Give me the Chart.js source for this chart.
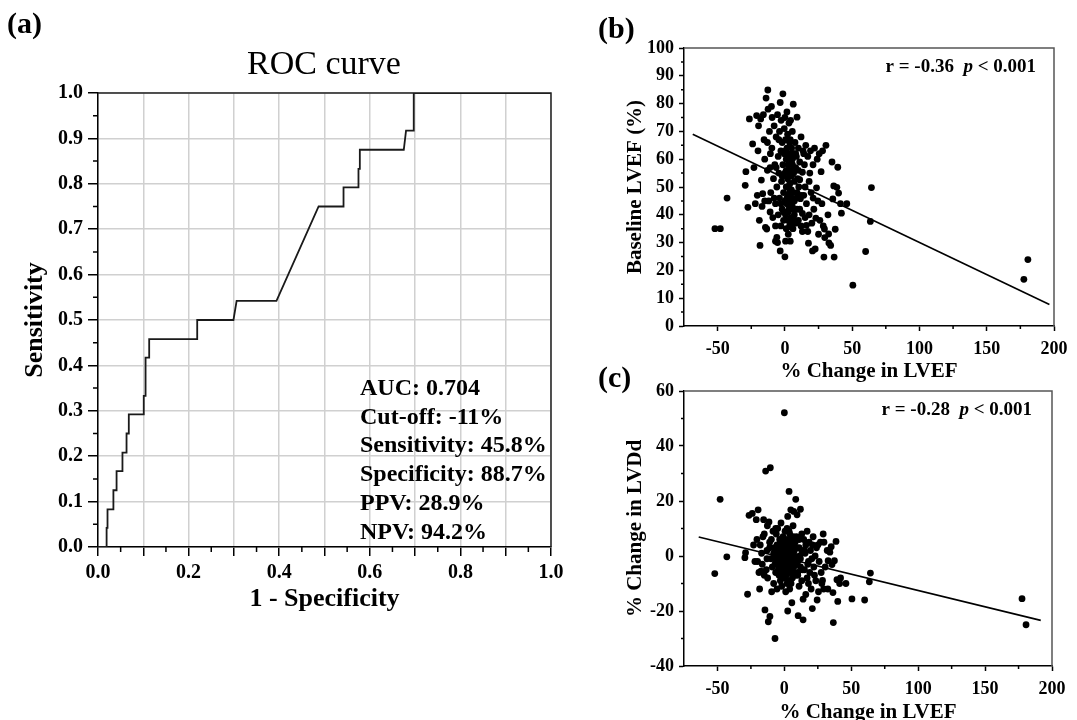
<!DOCTYPE html>
<html lang="en">
<head>
<meta charset="utf-8">
<title>ROC curve and LVEF correlations</title>
<script src="https://cdn.jsdelivr.net/npm/chart.js@4.4.1/dist/chart.umd.min.js"></script>
<style>
    html, body { margin: 0; padding: 0; background: #fff; }
    body { position: relative; width: 1077px; height: 720px; overflow: hidden; }
    canvas { position: absolute; }
    #rocChart { left: 0; top: 0; }
    #lvefChart { left: 570px; top: 0; }
    #lvddChart { left: 570px; top: 355px; }
</style>
</head>
<body>
<canvas id="rocChart" width="570" height="620"></canvas>
<canvas id="lvefChart" width="507" height="384"></canvas>
<canvas id="lvddChart" width="507" height="370"></canvas>
<script>
// ---- Data ----

// (a) ROC curve steps
const rocFpr = [0, 0.019, 0.019, 0.021, 0.021, 0.034, 0.034, 0.041, 0.041, 0.054, 0.054, 0.063, 0.063,
    0.068, 0.068, 0.101, 0.101, 0.105, 0.105, 0.113, 0.113, 0.219, 0.219, 0.299, 0.306, 0.394, 0.487,
    0.542, 0.542, 0.575, 0.575, 0.578, 0.578, 0.675, 0.68, 0.697, 0.697, 1];
const rocTpr = [0, 0, 0.042, 0.042, 0.083, 0.083, 0.125, 0.125, 0.167, 0.167, 0.208, 0.208, 0.25,
    0.25, 0.292, 0.292, 0.333, 0.333, 0.417, 0.417, 0.458, 0.458, 0.5, 0.5, 0.542, 0.542, 0.75,
    0.75, 0.792, 0.792, 0.833, 0.833, 0.875, 0.875, 0.917, 0.917, 1, 1];
const rocStats = ['AUC: 0.704', 'Cut-off: -11%', 'Sensitivity: 45.8%', 'Specificity: 88.7%', 'PPV: 28.9%', 'NPV: 94.2%'];

// (b), (c) one value per patient
const lvefChange = [
    -52, -48, -43, -29, -29.5, -27.5, -26.4, -24, -23, -21,
    -20, -19.6, -18, -18.5, -17.5, -17, -16.5, -16, -15.5, -15,
    -14.5, -14, -13.5, -13, -12.7, -12.5, -12, -11.5, -11, -10.8,
    -10.5, -10, -9.7, -9, -8.5, -8, -7.5, -7, -7, -6.5,
    -6, -6, -5.5, -5.5, -5, -5, -4.5, -4, -4, -3.5,
    -3.5, -3, -3, -2.8, -2.5, -2, -2, -1.5, -1.5, -1,
    -1, -0.5, -0.5, 0, 0, 0, 0.5, 0.5, 0.5, 1,
    1, 1, 1.5, 1.5, 1.5, 2, 2, 2, 2.5, 2.5,
    2.5, 3, 3, 3, 3.5, 3.5, 3.5, 4, 4, 4,
    4.2, 4.5, 4.5, 4.8, 5, 5, 5, 5.5, 5.5, 5.6,
    6, 6, 6.2, 6.5, 7, 7, 7.5, 8, 8, 8.5,
    8.5, 9, 9, 9.5, 10, 10, 10.3, 11, 11, 11.5,
    12, 12, 13, 13, 13, 14, 14, 14.5, 15, 15.5,
    16, 16, 17, 17, 17.5, 18, 18.5, 19, 19.5, 20,
    20.5, 20.9, 21.5, 22, 22.5, 23, 23.5, 24, 24.5, 25,
    25.5, 26, 26.9, 27.5, 28, 28.5, 29, 29.4, 29.6, 30.5,
    32, 32.5, 32.7, 34, 35, 35.6, 36.3, 36.6, 37.4, 38.6,
    39.3, 39.9, 41.3, 42, 46, 50.5, 60, 63.5, 64.3, 177.6,
    180.6, -22, -20.5, -19, -9.5, -8, -7, -6.5, -4.5, -3,
    -2, -1, 0, 0.5, 1, 1.5, 2, 2.5, 3, 3.5,
    4, 4.5, 5, 5.5, 6, 6.5, 7, 7.5, 8, 9,
    10, 11, 12, 13.5, 15, 18, 21, -13, -11, -15
];
const baselineLvef = [
    35, 35, 46, 55.5, 50.6, 42.7, 74.5, 65.5, 57, 75.7,
    63, 72, 74.5, 29, 52.5, 43, 47.6, 76, 67, 60,
    35.5, 82, 34.9, 66, 84.9, 78, 45, 70, 57, 62,
    48, 79, 64, 39, 53, 72, 58, 30.5, 44, 68,
    31.9, 50, 76, 30, 61, 40, 55, 70, 46, 27,
    80.4, 63, 36, 74, 52, 42, 66, 83.5, 58, 48,
    38, 62, 71, 24.9, 45, 55, 30.5, 67, 40, 50,
    60, 35, 77, 44, 64, 53, 38, 69, 47, 58,
    33, 62, 42, 73, 51, 36, 66, 30.5, 56, 45,
    74, 60, 39, 49, 64, 35.5, 54, 43, 70, 58,
    35, 48, 79.8, 62, 40, 52, 66, 37, 57, 46,
    61, 75.1, 42, 53, 64, 38, 50, 52.6, 59, 45.8,
    36, 68, 55.3, 40.5, 34, 47, 62, 58, 50, 65,
    36.2, 44, 34, 61, 29.8, 40, 55, 63, 48, 37,
    27, 58, 42, 64, 27.7, 38.8, 49.7, 60, 45, 33,
    62, 38, 55.5, 44, 63, 36, 24.8, 34.9, 31.8, 65,
    40, 33.1, 29.9, 29, 59, 45.7, 50.4, 24.8, 34.8, 49.9,
    57.1, 47.8, 44, 40.6, 44, 14.7, 26.8, 37.6, 49.8, 16.8,
    23.9, 44, 47, 38, 75, 46, 36, 57, 67, 44,
    54, 41, 75, 63, 56, 46, 61, 41, 55, 48,
    67, 37, 46, 60, 42, 55, 45, 38, 62, 48,
    56, 42, 47, 63, 39, 52, 46, 56, 41, 45
];
const lvddChange = [
    -6.4, 20.6, -0.3, 1.2, -0.6, -13.9, 14.8, 15.5, 4, 13.2,
    -2, 16.8, 4, -12, -5.5, 1, -3, 7, 13.2, -7,
    -19.6, 30.9, -5, 2, 11, -8, -23.9, 12.4, 5, -22,
    32.1, -1, 6, -4, 9, -10, 3, -30, 0, -6,
    8, -2, 4, -12, 1, 10, -3, 2, -7, 6,
    -1, 5, -9, 0, 12, -4, -11, 3, -2, 7,
    -6, 1, -1, 52.1, -3, 4, -8, 0, 9, -5,
    2, -13, -2, 5, -7, 1, -1, 10, 14.4, -20,
    -4, 3, -9, 6, -2, 23.5, 0, -6, 8, -12,
    2, -3, 4, 16.8, -1, -10, 6, -5, 1, -17,
    3, -8, -2, 11, 16.2, -4, 2, -7, 5, 20.6,
    -1, -3, 7, 15, -6, -2, -21.7, 3, -11, 0,
    17, -4, 8, -9, 2, -15.7, -23.2, 6, -5, 1,
    -14, 4, -8, 9, -3, -10, 5, -6, 2, -12,
    -1, -19.1, 7, -4, -7, 0, -9, 3, -16, 4,
    -13, -2, 5, -6, -10, -8.9, 8, -12, 5, -4,
    2, -12, -1.7, 1.4, 3.4, -3.1, -13.3, -24.2, -1.7, 5.3,
    -8.6, -16.5, -10, -8, -10, -15.6, -16, -9.4, -6.2, -15.5,
    -25, -2, 6, -6, -13, 1, -3, 10, -5, 3,
    -8, 0, -4, 6, -2, 2, -10, 4, -1, 9,
    -5, 1, -3, 4, -1, 7, -6, 0, -2, 3,
    -7, 6, -1, -5, 2, -2, 4, -1, 3, 8
];

// regression line end points
const fitLvefX = [-68.5, 196.6];
const fitLvefY = [69.0, 7.7];
const fitLvddX = [-64, 191.6];
const fitLvddY = [6.9, -23.4];

const changeTicks = [-50, 0, 50, 100, 150, 200];

// ---- Helpers ----
const FONT = '"Liberation Serif", "Times New Roman", serif';
Chart.defaults.font.family = FONT;
Chart.defaults.color = '#000';

const bold = size => ({ family: FONT, size, weight: 'bold' });

function steps(from, to, step) {
    const out = [];
    for (let v = from; v <= to + 1e-9; v += step) out.push(+v.toFixed(4));
    return out;
}

// frame, minor ticks and free text
const decorations = {
    id: 'decorations',
    afterDraw(chart, args, opts) {
        const { ctx, chartArea: area, scales } = chart;
        ctx.save();
        ctx.lineWidth = 1.5;

        ctx.strokeStyle = opts.frameColor;
        ctx.beginPath();
        ctx.moveTo(area.left, area.top);
        ctx.lineTo(area.right, area.top);
        ctx.lineTo(area.right, area.bottom);
        ctx.stroke();

        ctx.strokeStyle = '#000';
        ctx.beginPath();
        opts.minorX.forEach(v => {
            const px = scales.x.getPixelForValue(v);
            ctx.moveTo(px, area.bottom);
            ctx.lineTo(px, area.bottom + opts.minorLen);
        });
        opts.minorY.forEach(v => {
            const py = scales.y.getPixelForValue(v);
            ctx.moveTo(area.left, py);
            ctx.lineTo(area.left - opts.minorLen, py);
        });
        ctx.stroke();

        ctx.fillStyle = '#000';
        ctx.textBaseline = 'alphabetic';
        opts.texts.forEach(t => {
            ctx.font = t.font;
            ctx.textAlign = t.align || 'left';
            ctx.fillText(t.text, t.x, t.y);
        });

        if (opts.corr) {
            const c = opts.corr;
            const parts = [
                [`bold ${c.size}px ${FONT}`, `r = ${c.r}  `],
                [`italic bold ${c.size}px ${FONT}`, 'p'],
                [`bold ${c.size}px ${FONT}`, ` < ${c.p}`],
            ];
            let width = 0;
            parts.forEach(([f, s]) => { ctx.font = f; width += ctx.measureText(s).width; });
            let x = c.right - width;
            ctx.textAlign = 'left';
            parts.forEach(([f, s]) => {
                ctx.font = f;
                ctx.fillText(s, x, c.y);
                x += ctx.measureText(s).width;
            });
        }
        ctx.restore();
    }
};

// ---- (a) ROC curve ----
function initRocChart() {
    const statTexts = rocStats.map((s, i) => ({
        text: s, x: 360, y: 395 + i * 28.7, font: `bold 24px ${FONT}`
    }));

    new Chart(document.getElementById('rocChart'), {
        type: 'scatter',
        data: {
            datasets: [{
                data: rocFpr.map((x, i) => ({ x, y: rocTpr[i] })),
                showLine: true,
                borderColor: '#1a1a1a',
                borderWidth: 1.8,
                pointRadius: 0,
                tension: 0,
            }]
        },
        options: {
            responsive: false,
            animation: false,
            layout: { padding: { left: 0, right: 19, top: 93, bottom: 0 } },
            plugins: {
                legend: { display: false },
                tooltip: { enabled: false },
                decorations: {
                    frameColor: '#222',
                    minorX: steps(0.05, 0.95, 0.1),
                    minorY: steps(0.05, 0.95, 0.1),
                    minorLen: 5,
                    texts: [
                        { text: '(a)', x: 7, y: 33, font: `bold 30px ${FONT}` },
                        { text: 'ROC curve', x: 324, y: 74, font: `34px ${FONT}`, align: 'center' },
                        ...statTexts,
                    ],
                },
            },
            scales: {
                x: {
                    min: 0, max: 1,
                    afterFit: scale => { scale.height = 73; },
                    ticks: {
                        stepSize: 0.1, autoSkip: false, maxRotation: 0, padding: 5,
                        font: bold(20),
                        callback: (v, i) => (i % 2 === 0 ? v.toFixed(1) : ''),
                    },
                    grid: { color: '#d0d0d0', lineWidth: 1.5, tickColor: '#000', tickWidth: 1.5, tickLength: 9 },
                    border: { color: '#000', width: 1.5 },
                    title: { display: true, text: '1 - Specificity', font: bold(26), padding: { top: 0, bottom: 5 } },
                },
                y: {
                    min: 0, max: 1,
                    afterFit: scale => { scale.width = 98; },
                    ticks: {
                        stepSize: 0.1, autoSkip: false, padding: 5,
                        font: bold(20),
                        callback: v => v.toFixed(1),
                    },
                    grid: { color: '#d0d0d0', lineWidth: 1.5, tickColor: '#000', tickWidth: 1.5, tickLength: 10 },
                    border: { color: '#000', width: 1.5 },
                    title: { display: true, text: 'Sensitivity', font: bold(26), padding: { top: 20, bottom: 0 } },
                },
            },
        },
        plugins: [decorations],
    });
}

// ---- (b), (c) scatter plots against % change in LVEF ----
function initCorrelationChart(id, yValues, fitX, fitY, cfg) {
    new Chart(document.getElementById(id), {
        type: 'scatter',
        data: {
            datasets: [{
                data: lvefChange.map((x, i) => ({ x, y: yValues[i] })),
                pointRadius: 3.4,
                pointBackgroundColor: '#000',
                pointBorderWidth: 0,
            }, {
                data: fitX.map((x, i) => ({ x, y: fitY[i] })),
                showLine: true,
                borderColor: '#000',
                borderWidth: 1.6,
                pointRadius: 0,
            }]
        },
        options: {
            responsive: false,
            animation: false,
            layout: { padding: cfg.padding },
            plugins: {
                legend: { display: false },
                tooltip: { enabled: false },
                decorations: {
                    frameColor: '#555',
                    minorX: [-25, 25, 75, 125, 175],
                    minorY: cfg.minorY,
                    minorLen: 3,
                    texts: [{ text: cfg.panel, x: 28, y: cfg.panelY, font: `bold 30px ${FONT}` }],
                    corr: { r: cfg.r, p: '0.001', size: 19, right: cfg.corrRight, y: cfg.corrY },
                },
            },
            scales: {
                x: {
                    min: -75, max: 200,
                    afterBuildTicks: scale => { scale.ticks = changeTicks.map(value => ({ value })); },
                    afterFit: scale => { scale.height = cfg.xHeight; },
                    ticks: { autoSkip: false, maxRotation: 0, padding: 8, font: bold(18) },
                    grid: { drawOnChartArea: false, tickColor: '#000', tickWidth: 1.5, tickLength: 5 },
                    border: { color: '#000', width: 1.5 },
                    title: { display: true, text: '% Change in LVEF', font: bold(21), padding: { top: 0, bottom: 0 } },
                },
                y: {
                    min: cfg.yMin, max: cfg.yMax,
                    afterFit: scale => { scale.width = 114; },
                    ticks: { stepSize: cfg.yStep, autoSkip: false, padding: 5, font: bold(18) },
                    grid: { drawOnChartArea: false, tickColor: '#000', tickWidth: 1.5, tickLength: 5 },
                    border: { color: '#000', width: 1.5 },
                    title: { display: true, text: cfg.yTitle, font: bold(21), padding: { top: 53, bottom: 0 } },
                },
            },
        },
        plugins: [decorations],
    });
}

document.addEventListener('DOMContentLoaded', () => {
    initRocChart();

    initCorrelationChart('lvefChart', baselineLvef, fitLvefX, fitLvefY, {
        padding: { left: 0, right: 23, top: 48, bottom: 0 },
        xHeight: 58,
        yMin: 0, yMax: 100, yStep: 10,
        minorY: steps(5, 95, 10),
        yTitle: 'Baseline LVEF (%)',
        panel: '(b)', panelY: 38,
        r: '-0.36', corrRight: 466, corrY: 72,
    });

    initCorrelationChart('lvddChart', lvddChange, fitLvddX, fitLvddY, {
        padding: { left: 0, right: 25, top: 36, bottom: 0 },
        xHeight: 59,
        yMin: -40, yMax: 60, yStep: 20,
        minorY: [-30, -10, 10, 30, 50],
        yTitle: '% Change in LVDd',
        panel: '(c)', panelY: 32,
        r: '-0.28', corrRight: 462, corrY: 60,
    });
});
</script>
</body>
</html>
